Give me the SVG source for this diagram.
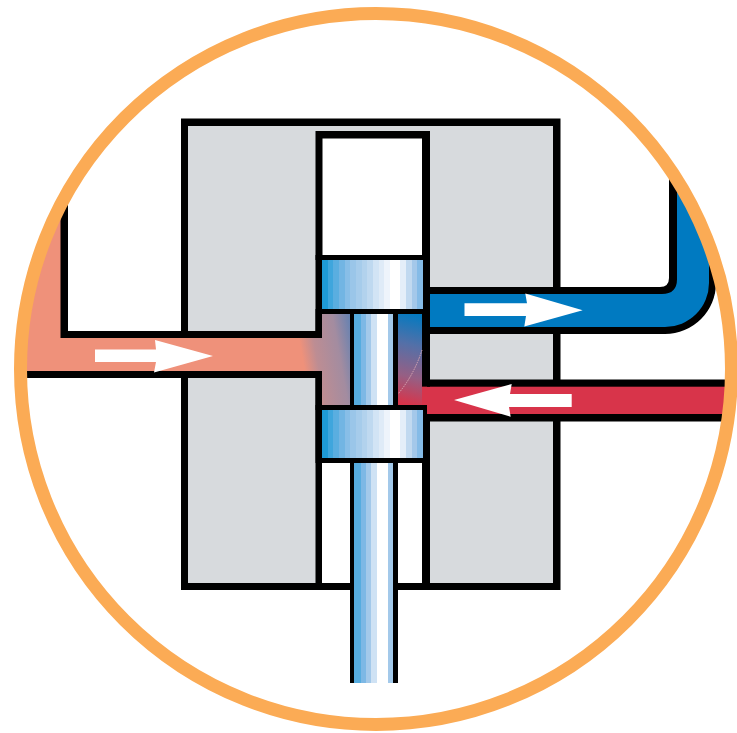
<svg xmlns="http://www.w3.org/2000/svg" width="737" height="733" viewBox="0 0 737 733">
<style>
.k{fill:#000}
.w{fill:#fff}
.g{fill:#d7dadd}
</style>
<defs>
<clipPath id="inner"><circle cx="376" cy="369" r="350"/></clipPath>
<linearGradient id="spool" gradientUnits="userSpaceOnUse" x1="322" y1="0" x2="423" y2="0">
<stop offset="0" stop-color="#1e9ad6"/><stop offset=".056" stop-color="#1e9ad6"/>
<stop offset=".056" stop-color="#3fa6dd"/><stop offset=".112" stop-color="#3fa6dd"/>
<stop offset=".112" stop-color="#5aaee0"/><stop offset=".168" stop-color="#5aaee0"/>
<stop offset=".168" stop-color="#72b5e3"/><stop offset=".224" stop-color="#72b5e3"/>
<stop offset=".224" stop-color="#88bee7"/><stop offset=".28" stop-color="#88bee7"/>
<stop offset=".28" stop-color="#9ac6e9"/><stop offset=".336" stop-color="#9ac6e9"/>
<stop offset=".336" stop-color="#a6cceb"/><stop offset=".392" stop-color="#a6cceb"/>
<stop offset=".392" stop-color="#b2d2ed"/><stop offset=".448" stop-color="#b2d2ed"/>
<stop offset=".448" stop-color="#bfd9f0"/><stop offset=".504" stop-color="#bfd9f0"/>
<stop offset=".504" stop-color="#d2e4f5"/><stop offset=".56" stop-color="#d2e4f5"/>
<stop offset=".56" stop-color="#dfebf7"/><stop offset=".616" stop-color="#dfebf7"/>
<stop offset=".616" stop-color="#eef4fb"/><stop offset=".672" stop-color="#eef4fb"/>
<stop offset=".672" stop-color="#fff"/><stop offset=".776" stop-color="#fff"/>
<stop offset=".776" stop-color="#e4eef9"/><stop offset=".832" stop-color="#e4eef9"/>
<stop offset=".832" stop-color="#c1d9f0"/><stop offset=".888" stop-color="#c1d9f0"/>
<stop offset=".888" stop-color="#a4c8ea"/><stop offset=".944" stop-color="#a4c8ea"/>
<stop offset=".944" stop-color="#85bbe7"/><stop offset="1" stop-color="#85bbe7"/>
</linearGradient>
<linearGradient id="stem" gradientUnits="userSpaceOnUse" x1="354" y1="0" x2="393" y2="0">
<stop offset="0" stop-color="#56acdf"/><stop offset=".17" stop-color="#56acdf"/>
<stop offset=".17" stop-color="#7db8e5"/><stop offset=".3" stop-color="#7db8e5"/>
<stop offset=".3" stop-color="#a3c9ea"/><stop offset=".44" stop-color="#a3c9ea"/>
<stop offset=".44" stop-color="#cfe2f4"/><stop offset=".58" stop-color="#cfe2f4"/>
<stop offset=".58" stop-color="#fff"/><stop offset=".87" stop-color="#fff"/>
<stop offset=".87" stop-color="#a3c9ea"/><stop offset="1" stop-color="#a3c9ea"/>
</linearGradient>
<linearGradient id="warm" gradientUnits="userSpaceOnUse" x1="352" y1="312" x2="296" y2="322">
<stop offset="0" stop-color="#5c80b4"/><stop offset=".35" stop-color="#a38ca0"/><stop offset=".75" stop-color="#bd8d93"/><stop offset="1" stop-color="#ef917a"/>
</linearGradient>
<linearGradient id="cool" gradientUnits="userSpaceOnUse" x1="420" y1="314" x2="398" y2="402">
<stop offset="0" stop-color="#007ac1"/><stop offset=".35" stop-color="#5370a8"/><stop offset=".7" stop-color="#965f84"/><stop offset="1" stop-color="#d8344a"/>
</linearGradient>
</defs>

<g id="body">
<rect class="k" x="181" y="118.500" width="379.500" height="471.500"/>
<rect class="g" x="188" y="126" width="365" height="457"/>
</g>

<g id="bore">
<rect class="k" x="315.500" y="131" width="114.500" height="459"/>
<rect class="w" x="322.500" y="138.500" width="99.500" height="116.500"/>
<rect class="w" x="322" y="463" width="100" height="120"/>
</g>

<g id="pipes" clip-path="url(#inner)">
<g id="inlet">
<path class="k" d="M0 150H68V331H322V378H0Z"/>
<path fill="#ef917a" d="M0 150H60.500V338H300V371H0Z"/>
<rect fill="url(#warm)" x="296" y="338" width="30" height="33"/>
</g>
<g id="outlet">
<path class="k" d="M430 287H660Q669 287 669 278V150H716V283A51 51 0 0 1 665 334H430Z"/>
<path fill="#007ac1" d="M430 294H662Q677 294 677 279V150H709V283A44 44 0 0 1 665 327H430Z"/>
</g>
<g id="supply">
<rect class="k" x="422" y="379.500" width="320" height="42"/>
<rect fill="#d8344a" x="422" y="386.700" width="320" height="27.300"/>
</g>
</g>

<g id="chambers">
<rect fill="url(#warm)" x="322" y="314" width="28" height="91"/>
<rect class="k" x="315.500" y="309" width="6.500" height="29"/>
<rect class="k" x="315.500" y="371" width="6.500" height="39"/>
<rect fill="#000" x="422" y="379.500" width="8" height="7.200"/>
<rect fill="url(#cool)" x="398" y="314" width="24" height="91"/>
<rect fill="#d8344a" x="422" y="386.700" width="5" height="18.300"/>
<path fill="none" stroke="#d9a9b5" stroke-width="1" stroke-dasharray="1.500 1" d="M422 350Q414 375 398 394"/>
<rect class="k" x="322" y="405" width="105" height="5"/>
<rect class="k" x="423" y="405" width="4" height="9"/>
</g>

<g id="piston">
<rect class="k" x="315.500" y="255" width="114.500" height="5"/>
<rect class="k" x="350" y="309" width="48" height="374"/>
<rect fill="url(#stem)" x="354" y="463" width="39" height="220"/>
<rect class="k" x="322" y="309" width="101" height="5"/>
<rect fill="url(#stem)" x="354" y="314" width="39" height="91"/>
<rect class="k" x="315.500" y="405" width="7.500" height="58"/>
<rect class="k" x="322" y="458" width="101" height="5"/>
<rect fill="url(#spool)" x="322" y="260" width="101" height="49"/>
<rect fill="url(#spool)" x="322" y="410" width="101" height="48"/>
</g>

<g id="arrows">
<path class="w" d="M95 349.500H156L155 340L213 356L154 372.500L156 362H95Z"/>
<path class="w" d="M464.500 303.300H527L525.300 293.500L582.700 310.300L524.300 326.500L526 316H464.500Z"/>
<path class="w" d="M571.700 394H510L511.700 384L454 400L510.700 416.700L509 407H571.700Z"/>
</g>

<circle id="ring" cx="376" cy="369" r="355.500" fill="none" stroke="#fbab55" stroke-width="13"/>
</svg>
